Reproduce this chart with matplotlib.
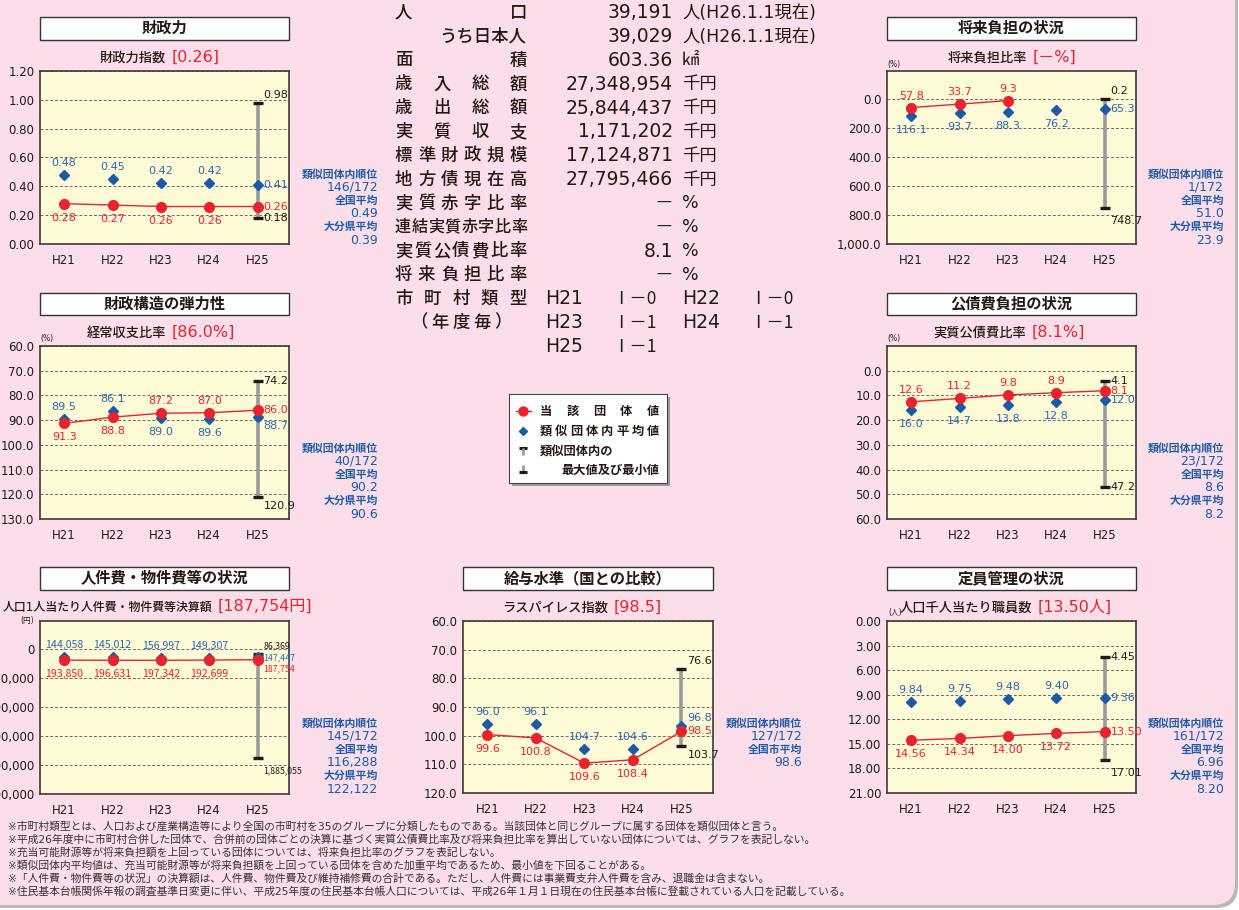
import matplotlib
matplotlib.use('Agg')
import numpy as np
import matplotlib.pyplot as plt
from matplotlib.patches import FancyBboxPatch, Rectangle

plt.rcParams['font.family'] = ['DejaVu Sans', 'Noto Sans CJK JP']
JP = ['Noto Sans CJK JP', 'DejaVu Sans']

W, H = 1239, 910
years = ['H21', 'H22', 'H23', 'H24', 'H25']

# ---- data ----
# 財政力指数
zai_own = [0.28, 0.27, 0.26, 0.26, 0.26]
zai_avg = [0.48, 0.45, 0.42, 0.42, 0.41]
zai_rng = [0.98, 0.18]
# 経常収支比率
kei_own = [91.3, 88.8, 87.2, 87.0, 86.0]
kei_avg = [89.5, 86.1, 89.0, 89.6, 88.7]
kei_rng = [74.2, 120.9]
# 将来負担比率 (H24, H25 not shown)
sho_own = [57.8, 33.7, 9.3]
sho_avg = [116.1, 93.7, 88.3, 76.2, 65.3]
sho_rng = [0.2, 748.7]
# 実質公債費比率
kou_own = [12.6, 11.2, 9.8, 8.9, 8.1]
kou_avg = [16.0, 14.7, 13.8, 12.8, 12.0]
kou_rng = [4.1, 47.2]
# 人口1人当たり人件費・物件費等決算額
jin_own = [193850, 196631, 197342, 192699, 187754]
jin_avg = [144058, 145012, 156997, 149307, 147447]
jin_rng = [86369, 1885055]
# ラスパイレス指数
ras_own = [99.6, 100.8, 109.6, 108.4, 98.5]
ras_avg = [96.0, 96.1, 104.7, 104.6, 96.8]
ras_rng = [76.6, 103.7]
# 人口千人当たり職員数
tei_own = [14.56, 14.34, 14.00, 13.72, 13.50]
tei_avg = [9.84, 9.75, 9.48, 9.40, 9.36]
tei_rng = [4.45, 17.01]

rank = ['146/172', '40/172', '1/172', '23/172', '145/172', '127/172', '161/172']
nat_avg = ['0.49', '90.2', '51.0', '8.6', '116,288', '98.6', '6.96']
pref_avg = ['0.39', '90.6', '23.9', '8.2', '122,122', None, '8.20']

info_labels = ['人口', 'うち日本人', '面積', '歳入総額', '歳出総額', '実質収支',
               '標準財政規模', '地方債現在高', '実質赤字比率', '連結実質赤字比率',
               '実質公債費比率', '将来負担比率']
info_values = ['39,191', '39,029', '603.36', '27,348,954', '25,844,437', '1,171,202',
               '17,124,871', '27,795,466', '－', '－', '8.1', '－']
info_units = ['人(H26.1.1現在)', '人(H26.1.1現在)', '㎢', '千円', '千円', '千円',
              '千円', '千円', '%', '%', '%', '%']
type_years = ['H21', 'H22', 'H23', 'H24', 'H25']
type_codes = ['Ⅰ－0', 'Ⅰ－0', 'Ⅰ－1', 'Ⅰ－1', 'Ⅰ－1']

notes = [
    '※市町村類型とは、人口および産業構造等により全国の市町村を35のグループに分類したものである。当該団体と同じグループに属する団体を類似団体と言う。',
    '※平成26年度中に市町村合併した団体で、合併前の団体ごとの決算に基づく実質公債費比率及び将来負担比率を算出していない団体については、グラフを表記しない。',
    '※充当可能財源等が将来負担額を上回っている団体については、将来負担比率のグラフを表記しない。',
    '※類似団体内平均値は、充当可能財源等が将来負担額を上回っている団体を含めた加重平均であるため、最小値を下回ることがある。',
    '※「人件費・物件費等の状況」の決算額は、人件費、物件費及び維持補修費の合計である。ただし、人件費には事業費支弁人件費を含み、退職金は含まない。',
    '※住民基本台帳関係年報の調査基準日変更に伴い、平成25年度の住民基本台帳人口については、平成26年１月１日現在の住民基本台帳に登載されている人口を記載している。',
]

RED = '#E8232E'
BLUE = '#1B5AA6'
BLUE_T = '#2A68B0'
DARK = '#231815'
PINK = '#FCDEEA'
YEL = '#FFFBD6'

fig = plt.figure(figsize=(W / 100, H / 100), dpi=100, facecolor='white')
bg = fig.add_axes([0, 0, 1, 1])
bg.set_xlim(0, W)
bg.set_ylim(H, 0)
bg.axis('off')
bg.set_zorder(0)

bg.add_patch(FancyBboxPatch((-37, -37), 1275, 945, boxstyle='round,pad=0,rounding_size=22',
                            fc='#b8b8b8', ec='none'))
bg.add_patch(FancyBboxPatch((-40, -40), 1275, 945, boxstyle='round,pad=0,rounding_size=22',
                            fc=PINK, ec='none'))


def spread(s, x0, x1, y, fs, **kw):
    cw = fs * 100 / 72
    n = len(s)
    if n == 1:
        xs = [x0 + cw / 2]
    else:
        xs = np.linspace(x0 + cw / 2, x1 - cw / 2, n)
    for ch, x in zip(s, xs):
        bg.text(x, y, ch, ha='center', va='center', fontsize=fs, family=JP, **kw)


OFF = {'a': (0, 12, 'center'), 'b': (0, -14, 'center'), 'r': (6, 0, 'left'),
       'ra': (6, 8, 'left'), 'rb': (6, -9, 'left'), 'rbb': (6, -13, 'left')}


def put(ax, x, y, s, code, color, fs=8, fam=None):
    dx, dy, ha = OFF[code]
    kw = {'family': fam} if fam else {}
    ax.annotate(s, (x, y), xytext=(dx, dy), textcoords='offset pixels', ha=ha, va='center',
                fontsize=fs, color=color, zorder=8, annotation_clip=False, **kw)


def panel(p):
    l, r, t, b = p['box']
    # title box
    bg.add_patch(Rectangle((l, p['tb'][0]), r - l, p['tb'][1] - p['tb'][0], fc='white',
                           ec='#333333', lw=1.0))
    bg.text((l + r) / 2, sum(p['tb']) / 2, p['title'], ha='center', va='center',
            fontsize=11, fontweight='bold', color=DARK)
    # subtitle
    bg.text(p['split'] - 2, p['sy'], p['sub'], ha='right', va='center',
            fontsize=p.get('subfs', 9.5), color=DARK, fontweight='medium')
    bg.text(p['split'] + 4, p['sy'] - 1, p['subv'], ha='left', va='center', fontsize=11.5, color=RED)
    if p.get('unit'):
        ux, uy, us = p['unit']
        bg.text(ux, uy, us, ha='center', va='center', fontsize=5.5, color=DARK)

    ax = fig.add_axes([l / W, 1 - b / H, (r - l) / W, (b - t) / H])
    ax.set_zorder(1)
    ax.set_facecolor(YEL)
    ax.set_xlim(-0.5, 4.65)
    ax.set_ylim(*p['ylim'])
    ax.set_xticks(range(5))
    ax.set_xticklabels(years)
    ax.set_yticks(p['ticks'])
    ax.set_yticklabels([p['tfmt'].format(v) for v in p['ticks']])
    ax.tick_params(length=0, labelsize=8.5, colors=DARK)
    ax.tick_params(axis='x', pad=7)
    ax.tick_params(axis='y', pad=4)
    for s in ax.spines.values():
        s.set_color('#3a3a3a')
        s.set_linewidth(1.2)
    for v in p['ticks']:
        ax.axhline(v, color='#6a6a6a', lw=0.7, ls=(0, (3, 2)), zorder=1)

    own, avg, rng = p['own'], p['avg'], p['rng']
    xo = np.arange(len(own))
    xa = np.arange(len(avg))
    ax.plot([4, 4], rng, color='#9a9a9a', lw=2.6, solid_capstyle='butt', zorder=2)
    ax.plot([4, 4], rng, ls='none', marker='_', ms=7.5, mew=2.4, color=DARK, zorder=3)
    ax.plot(xa, avg, ls='none', marker='D', ms=4.6, color=BLUE, zorder=4)
    ax.plot(xo, own, color=RED, lw=1.0, marker='o', ms=7, zorder=5)

    f = p['vfmt']
    lfs = p.get('lfs', 8)
    fam = p.get('lfam')
    h25 = p.get('h25fs', lfs)
    for i, v in enumerate(avg):
        put(ax, i, v, f.format(v), p['apos'][i], BLUE_T, h25 if i == 4 else lfs, fam)
    for i, v in enumerate(own):
        put(ax, i, v, f.format(v), p['opos'][i], RED, h25 if i == 4 else lfs, fam)
    for v, code in zip(rng, p['rpos']):
        put(ax, 4, v, f.format(v), code, DARK, h25, fam)

    # side info
    ix, iy = p['info']
    rows = []
    k = p['k']
    rows.append(('類似団体内順位', True))
    rows.append((rank[k], False))
    rows.append(('全国市平均' if pref_avg[k] is None else '全国平均', True))
    rows.append((nat_avg[k], False))
    if pref_avg[k] is not None:
        rows.append(('大分県平均', True))
        rows.append((pref_avg[k], False))
    for j, (s, bold) in enumerate(rows):
        bg.text(ix, iy + j * 13.3, s, ha='right', va='center',
                fontsize=7.8 if bold else 9, fontweight='bold' if bold else 'normal', color=BLUE)


panels = [
    dict(k=0, box=(40, 289, 71, 244), tb=(17, 40), title='財政力', sub='財政力指数', subv='[0.26]',
         split=168, sy=58, ylim=(0, 1.2), ticks=np.arange(0, 1.21, 0.2), tfmt='{:.2f}', vfmt='{:.2f}',
         own=zai_own, avg=zai_avg, rng=zai_rng, apos=['a', 'a', 'a', 'a', 'r'],
         opos=['b', 'b', 'b', 'b', 'r'], rpos=['ra', 'r'], info=(378, 174)),
    dict(k=1, box=(40, 289, 346, 519), tb=(293, 315), title='財政構造の弾力性', sub='経常収支比率',
         subv='[86.0%]', split=168, sy=333, ylim=(130, 60), ticks=np.arange(60, 131, 10),
         tfmt='{:.1f}', vfmt='{:.1f}', own=kei_own, avg=kei_avg, rng=kei_rng,
         apos=['a', 'a', 'b', 'b', 'rb'], opos=['b', 'b', 'a', 'a', 'r'], rpos=['r', 'rb'],
         info=(378, 448), unit=(47, 339, '(%)')),
    dict(k=2, box=(887, 1136, 71, 244), tb=(17, 40), title='将来負担の状況', sub='将来負担比率',
         subv='[－%]', split=1029, sy=58, ylim=(1000, -195), ticks=np.arange(0, 1001, 200),
         tfmt='{:,.1f}', vfmt='{:.1f}', own=sho_own, avg=sho_avg, rng=sho_rng,
         apos=['b', 'b', 'b', 'b', 'r'], opos=['a', 'a', 'a'], rpos=['ra', 'rbb'],
         info=(1224, 174), unit=(894, 65, '(%)')),
    dict(k=3, box=(887, 1136, 346, 519), tb=(293, 315), title='公債費負担の状況', sub='実質公債費比率',
         subv='[8.1%]', split=1028, sy=333, ylim=(60, -10), ticks=np.arange(0, 61, 10),
         tfmt='{:.1f}', vfmt='{:.1f}', own=kou_own, avg=kou_avg, rng=kou_rng,
         apos=['b', 'b', 'b', 'b', 'r'], opos=['a', 'a', 'a', 'a', 'r'], rpos=['r', 'r'],
         info=(1224, 448), unit=(894, 339, '(%)')),
    dict(k=4, box=(40, 289, 621, 794), tb=(567, 590), title='人件費・物件費等の状況',
         sub='人口1人当たり人件費・物件費等決算額', subv='[187,754円]', split=214, sy=607,
         subfs=8.6, ylim=(2500000, -480000), ticks=np.arange(0, 2500001, 500000),
         tfmt='{:,.0f}', vfmt='{:,.0f}', own=jin_own, avg=jin_avg, rng=jin_rng,
         apos=['a', 'a', 'a', 'a', 'r'], opos=['b', 'b', 'b', 'b', 'rb'], rpos=['ra', 'rbb'],
         info=(378, 723), unit=(27, 621, '(円)'), lfs=7.6, h25fs=6.3, lfam=JP),
    dict(k=5, box=(463, 713, 621, 793), tb=(567, 590), title='給与水準（国との比較）',
         sub='ラスパイレス指数', subv='[98.5]', split=610, sy=608, ylim=(120, 60),
         ticks=np.arange(60, 121, 10), tfmt='{:.1f}', vfmt='{:.1f}', own=ras_own, avg=ras_avg,
         rng=ras_rng, apos=['a', 'a', 'a', 'a', 'ra'], opos=['b', 'b', 'b', 'b', 'r'],
         rpos=['ra', 'rb'], info=(802, 723)),
    dict(k=6, box=(887, 1136, 621, 793), tb=(567, 590), title='定員管理の状況',
         sub='人口千人当たり職員数', subv='[13.50人]', split=1034, sy=608, ylim=(21, 0),
         ticks=np.arange(0, 21.1, 3), tfmt='{:.2f}', vfmt='{:.2f}', own=tei_own, avg=tei_avg,
         rng=tei_rng, apos=['a', 'a', 'a', 'a', 'r'], opos=['b', 'b', 'b', 'b', 'r'],
         rpos=['r', 'rbb'], info=(1224, 723), unit=(895, 613, '(人)')),
]
for p in panels:
    panel(p)

# ---- center info block ----
fs = 12.5
row_y = [12.7 + 23.85 * i for i in range(16)]
for i, lab in enumerate(info_labels):
    y = row_y[i]
    if lab == 'うち日本人':
        bg.text(526, y, lab, ha='right', va='center', fontsize=fs, color=DARK, family=JP,
                fontweight='medium')
    elif len(lab) >= 8:
        spread(lab, 395, 527, y, 11.6, color=DARK, fontweight='medium')
    else:
        spread(lab, 395, 527, y, fs, color=DARK, fontweight='medium')
    bg.text(673, y, info_values[i], ha='right', va='center', fontsize=13.5, color=DARK)
    bg.text(682, y, info_units[i], ha='left', va='center', fontsize=fs, color=DARK)
spread('市町村類型', 395, 527, row_y[12], fs, color=DARK, fontweight='medium')
spread('（年度毎）', 410, 512, row_y[13], fs, color=DARK, fontweight='medium')
cols = [(545, 612), (682, 749)]
for j, (yr, code) in enumerate(zip(type_years, type_codes)):
    y = row_y[12 + j // 2]
    cx, cc = cols[j % 2]
    bg.text(cx, y, yr, ha='left', va='center', fontsize=13.5, color=DARK)
    bg.text(cc, y, code, ha='left', va='center', fontsize=fs, color=DARK, family=JP)

# ---- legend ----
bg.add_patch(Rectangle((512, 397), 158, 89, fc='#9a9a9a', ec='none'))
bg.add_patch(Rectangle((509, 394), 158, 89, fc='white', ec='#444444', lw=0.8))
bg.plot([516, 531], [411, 411], color=RED, lw=1.0)
bg.plot([523], [411], marker='o', ms=6.5, color=RED)
bg.plot([523], [431], marker='D', ms=4.3, color=BLUE)
bg.plot([519, 527], [448, 448], color=DARK, lw=2.2, solid_capstyle='butt')
bg.plot([523, 523], [448, 455], color='#9a9a9a', lw=2.0, solid_capstyle='butt')
bg.plot([523, 523], [465, 471], color='#9a9a9a', lw=2.0, solid_capstyle='butt')
bg.plot([519, 527], [472, 472], color=DARK, lw=2.2, solid_capstyle='butt')
lfs = 8.8
spread('当該団体値', 540, 659, 411, lfs, color=DARK, fontweight='bold')
spread('類似団体内平均値', 540, 659, 431, lfs, color=DARK, fontweight='bold')
bg.text(540, 452, '類似団体内の', ha='left', va='center', fontsize=lfs, color=DARK,
        fontweight='bold', family=JP)
bg.text(659, 470, '最大値及び最小値', ha='right', va='center', fontsize=lfs, color=DARK,
        fontweight='bold', family=JP)

# ---- footnotes ----
for i, s in enumerate(notes):
    bg.text(8, 826 + 13.2 * i, s, ha='left', va='center', fontsize=7.75, color='#333333')

fig.savefig('out.png', dpi=100, facecolor='white')
